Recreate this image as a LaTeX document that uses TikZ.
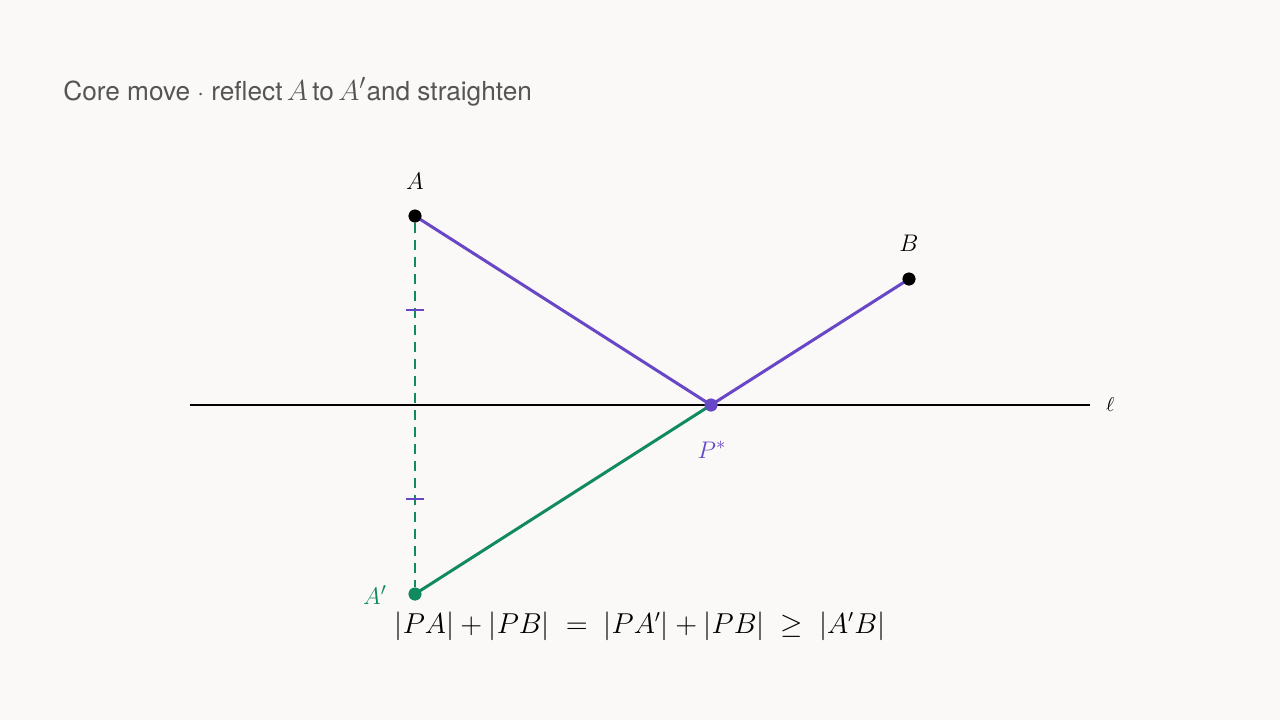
\documentclass[tikz,border=0pt]{standalone}
\usepackage[no-math]{fontspec}
\setmainfont{TeX Gyre Heros}
\definecolor{bgcol}{HTML}{FAF9F7}
\definecolor{purp}{HTML}{6747C6}
\definecolor{grn}{HTML}{108A5E}
\definecolor{titlegray}{HTML}{555555}
\newcommand{\titlemath}[1]{{\fontsize{15.5}{16}\selectfont$#1$}}
\tikzset{
  dot/.style={circle, fill=#1, inner sep=0pt, minimum size=6.4pt},
  tick/.style={purp, line width=1.4pt},
  lbl/.style={font=\fontsize{12.5}{14}\selectfont},
}
\begin{document}
\begin{tikzpicture}[x=0.5pt, y=-0.5pt]
\useasboundingbox[fill=bgcol] (0,0) rectangle (1280,720);

% title
\node[anchor=base west, text=titlegray, font=\fontsize{13.1}{15}\selectfont, inner sep=0pt]
  at (63,100) {Core move $\cdot$ reflect\,\titlemath{A}\,to\,\titlemath{A'}and straighten};

% mirror line
\coordinate (L1) at (190,405);
\coordinate (L2) at (1090,405);
\draw[line width=1.4pt] (L1) -- (L2) node[right=4pt, lbl, font=\fontsize{10}{12}\selectfont]{$\ell$};

% points
\node[dot=black] (A) at (415,216) {};
\node[dot=black] (B) at (909,279) {};
\node[dot=purp] (P) at (711,405) {};
\node[dot=grn] (Ap) at (415,594) {};

% reflection, dashed
\draw[grn, line width=0.8pt, dash pattern=on 5pt off 3.5pt] (A) -- (Ap);
\draw[tick] (406,310) -- (424,310);
\draw[tick] (406,499) -- (424,499);

% paths
\draw[purp, line width=1.5pt] (A.center) -- (P.center) -- (B.center);
\draw[grn, line width=1.5pt] (Ap.center) -- (P.center);
\node[dot=purp] at (P) {};
\node[dot=black] at (A) {};
\node[dot=black] at (B) {};
\node[dot=grn] at (Ap) {};

% labels
\node[lbl] at (415,181) {$A$};
\node[lbl] at (909,243) {$B$};
\node[lbl, text=purp] at (712,450) {$P^*$};
\node[lbl, text=grn] at (375,595) {$A'$};

% inequality
\node[anchor=base, font=\fontsize{13.5}{16}\selectfont] (eq) at (640,633)
  {$|PA|+|PB|\;=\;|PA'|+|PB|\;\geq\;|A'B|$};
\end{tikzpicture}
\end{document}
